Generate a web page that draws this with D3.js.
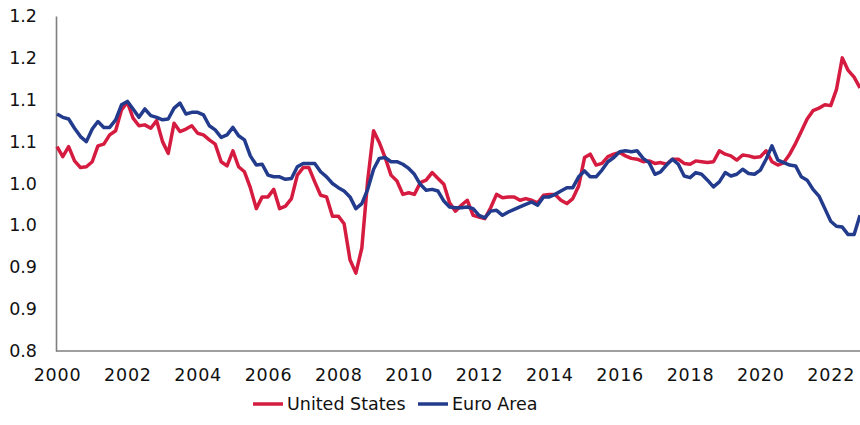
<!DOCTYPE html>
<html>
<head>
<meta charset="utf-8">
<script src="https://cdn.jsdelivr.net/npm/d3@7"></script>
<style>
  body { margin: 0; background: #fff; }
  svg { display: block; font-family: "DejaVu Sans", sans-serif; }
  .axis path { stroke: #7f7f7f; stroke-width: 1.6; }
  .axis text { fill: #111; }
</style>
</head>
<body>
<div id="chart"></div>
<script>
// bi-monthly observations, first one is Jan 2000
const startMonth = new Date(2000, 0, 1)
const stepMonths = 2

const usValues = [
  1.044, 1.032, 1.044, 1.027, 1.019, 1.020, 1.026, 1.045, 1.047, 1.058,
  1.063, 1.088, 1.097, 1.078, 1.069, 1.070, 1.066, 1.075, 1.050, 1.036,
  1.072, 1.062, 1.065, 1.069, 1.060, 1.058, 1.052, 1.047, 1.026, 1.021,
  1.039, 1.020, 1.014, 0.995, 0.970, 0.984, 0.984, 0.993, 0.970, 0.973,
  0.982, 1.010, 1.019, 1.019, 1.002, 0.986, 0.984, 0.961, 0.961, 0.952,
  0.909, 0.893, 0.923, 1.004, 1.063, 1.049, 1.031, 1.010, 1.003, 0.987,
  0.989, 0.987, 1.001, 1.004, 1.013, 1.006, 0.999, 0.977, 0.967, 0.974,
  0.980, 0.962, 0.960, 0.958, 0.971, 0.987, 0.983, 0.984, 0.984, 0.980,
  0.982, 0.980, 0.977, 0.986, 0.987, 0.987, 0.980, 0.976, 0.982, 0.997,
  1.031, 1.035, 1.022, 1.024, 1.032, 1.035, 1.037, 1.033, 1.030, 1.029,
  1.026, 1.027, 1.024, 1.025, 1.023, 1.029, 1.029, 1.024, 1.023, 1.027,
  1.026, 1.025, 1.026, 1.039, 1.035, 1.033, 1.028, 1.034, 1.033, 1.031,
  1.032, 1.039, 1.026, 1.022, 1.025, 1.035, 1.048, 1.062, 1.077, 1.087,
  1.090, 1.094, 1.093, 1.112, 1.150, 1.135, 1.127, 1.114
]

const euroValues = [
  1.083, 1.079, 1.077, 1.066, 1.056, 1.050, 1.065, 1.074, 1.067, 1.067,
  1.076, 1.094, 1.098, 1.089, 1.079, 1.089, 1.081, 1.079, 1.076, 1.077,
  1.090, 1.096, 1.083, 1.085, 1.085, 1.082, 1.069, 1.064, 1.055, 1.058,
  1.067, 1.057, 1.052, 1.033, 1.022, 1.023, 1.010, 1.008, 1.008, 1.005,
  1.006, 1.020, 1.024, 1.024, 1.024, 1.014, 1.008, 1.000, 0.995, 0.991,
  0.984, 0.970, 0.976, 0.993, 1.017, 1.030, 1.031, 1.026, 1.026, 1.023,
  1.018, 1.011, 0.999, 0.992, 0.993, 0.991, 0.979, 0.972, 0.971, 0.971,
  0.972, 0.970, 0.962, 0.959, 0.967, 0.968, 0.962, 0.966, 0.969, 0.972,
  0.975, 0.978, 0.974, 0.984, 0.984, 0.987, 0.991, 0.995, 0.995, 1.008,
  1.015, 1.008, 1.008, 1.016, 1.026, 1.031, 1.038, 1.039, 1.038, 1.039,
  1.030, 1.025, 1.011, 1.014, 1.022, 1.029, 1.023, 1.009, 1.007, 1.013,
  1.011, 1.004, 0.996, 1.002, 1.013, 1.009, 1.011, 1.017, 1.012, 1.011,
  1.016, 1.029, 1.045, 1.028, 1.025, 1.022, 1.021, 1.008, 1.004, 0.993,
  0.985, 0.970, 0.955, 0.949, 0.948, 0.939, 0.939, 0.962
]

const yTicks = [1.2, 1.15, 1.1, 1.05, 1.0, 0.95, 0.9, 0.85, 0.8]
const yTickLabels = ["1.2", "1.2", "1.1", "1.1", "1.0", "1.0", "0.9", "0.9", "0.8"]
const xTickYears = [2000, 2002, 2004, 2006, 2008, 2010, 2012, 2014, 2016, 2018, 2020, 2022]

const seriesNames = ["United States", "Euro Area"]
const seriesColors = ["#d51c40", "#233b8d"]

const width = 860
const height = 425
const margin = {top: 16, right: 0, bottom: 74, left: 56}

const dates = usValues.map((v, i) => d3.timeMonth.offset(startMonth, i * stepMonths))

const svg = d3.select("#chart")
  .append("svg")
  .attr("width", width)
  .attr("height", height)

const xScale = d3.scaleTime()
  .domain([dates[0], dates[dates.length - 1]])
  .range([margin.left + 1, width - margin.right])

const yScale = d3.scaleLinear()
  .domain([0.8, 1.2])
  .range([height - margin.bottom, margin.top])

const xAxis = d3.axisBottom(xScale)
  .tickValues(xTickYears.map(y => new Date(y, 0, 1)))
  .tickFormat(d3.timeFormat("%Y"))
  .tickSize(0)
  .tickSizeOuter(0)
  .tickPadding(18)

const yAxis = d3.axisLeft(yScale)
  .tickValues(yTicks)
  .tickFormat((d, i) => yTickLabels[i])
  .tickSize(0)
  .tickSizeOuter(0)
  .tickPadding(19)

const gX = svg.append("g")
  .attr("class", "x axis")
  .attr("transform", `translate(0,${height - margin.bottom})`)
  .call(xAxis)
gX.select(".domain").attr("d", `M${margin.left},0H${width}`)
gX.selectAll("text")
  .attr("font-size", 17.5)
  .attr("letter-spacing", 0.8)
  .attr("font-family", "DejaVu Sans, sans-serif")

const gY = svg.append("g")
  .attr("class", "y axis")
  .attr("transform", `translate(${margin.left},0)`)
  .call(yAxis)
gY.selectAll("text")
  .attr("font-size", 17.5)
  .attr("font-family", "DejaVu Sans, sans-serif")

const line = d3.line()
  .x((d, i) => xScale(dates[i]))
  .y(d => yScale(d))

// red drawn first, euro area sits on top
;[usValues, euroValues].forEach((values, k) => {
  svg.append("path")
    .datum(values)
    .attr("fill", "none")
    .attr("stroke", seriesColors[k])
    .attr("stroke-width", 3.5)
    .attr("stroke-linejoin", "round")
    .attr("d", line)
})

// legend
const legendX = [253, 418]
const legend = svg.append("g")
  .selectAll("g")
  .data(seriesNames)
  .enter().append("g")
  .attr("transform", (d, i) => `translate(${legendX[i]},404)`)

legend.append("line")
  .attr("x1", 0)
  .attr("x2", 30)
  .attr("stroke", (d, i) => seriesColors[i])
  .attr("stroke-width", 3.5)

legend.append("text")
  .attr("x", 34)
  .attr("y", 0)
  .attr("dy", "0.36em")
  .attr("font-size", 17.5)
  .attr("fill", "#111")
  .text(d => d)
</script>
</body>
</html>
